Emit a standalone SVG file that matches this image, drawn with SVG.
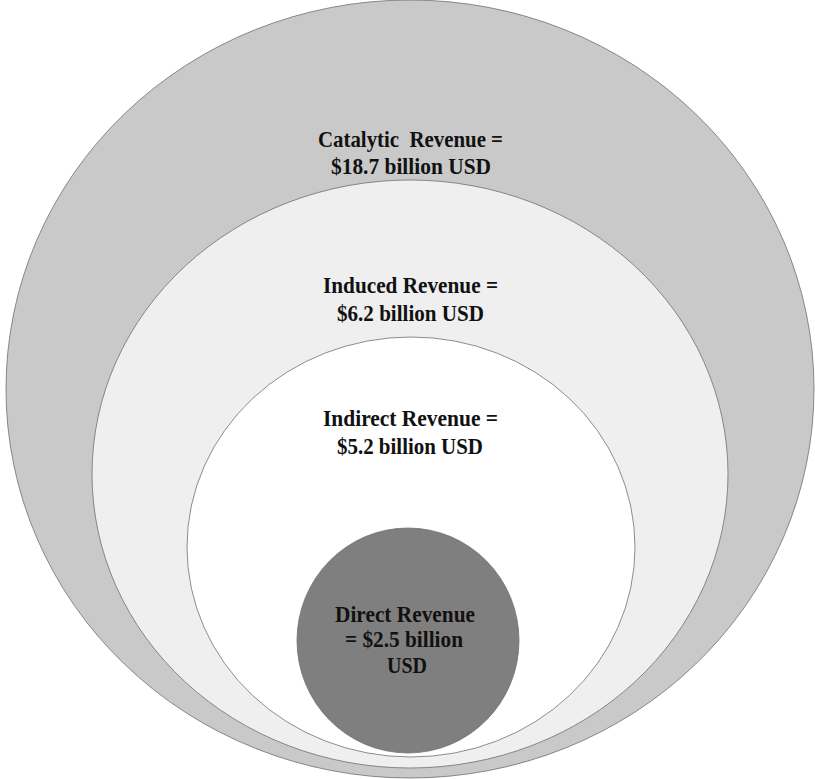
<svg xmlns="http://www.w3.org/2000/svg" width="815" height="779" viewBox="0 0 815 779">
  <style>
    .ring { stroke: #707070; stroke-width: 0.8; }
    .label { font-family: "Liberation Serif", "Times New Roman", serif; font-weight: bold; font-size: 24px; fill: #111111; text-anchor: middle; }
  </style>
  <rect width="815" height="779" fill="#ffffff"/>

  <g id="catalytic">
    <ellipse class="ring" cx="410" cy="389" rx="404" ry="389" fill="#c9c9c9"/>
    <text class="label" x="410.5" y="147" textLength="185" lengthAdjust="spacingAndGlyphs" xml:space="preserve">Catalytic  Revenue =</text>
    <text class="label" x="411" y="174" textLength="160" lengthAdjust="spacingAndGlyphs">$18.7 billion USD</text>
  </g>

  <g id="induced">
    <ellipse class="ring" cx="410" cy="474" rx="318" ry="294" fill="#efefef"/>
    <text class="label" x="410.5" y="293" textLength="175" lengthAdjust="spacingAndGlyphs">Induced Revenue =</text>
    <text class="label" x="410.5" y="321" textLength="147" lengthAdjust="spacingAndGlyphs">$6.2 billion USD</text>
  </g>

  <g id="indirect">
    <ellipse class="ring" cx="411" cy="547" rx="224" ry="210" fill="#ffffff"/>
    <text class="label" x="410.5" y="426" textLength="175" lengthAdjust="spacingAndGlyphs">Indirect Revenue =</text>
    <text class="label" x="410" y="454" textLength="146" lengthAdjust="spacingAndGlyphs">$5.2 billion USD</text>
  </g>

  <g id="direct">
    <ellipse class="ring" cx="408" cy="640.5" rx="111" ry="112.5" fill="#7f7f7f"/>
    <text class="label" x="405" y="622" textLength="140" lengthAdjust="spacingAndGlyphs">Direct Revenue</text>
    <text class="label" x="404" y="647" textLength="118" lengthAdjust="spacingAndGlyphs">= $2.5 billion</text>
    <text class="label" x="407" y="673" textLength="40" lengthAdjust="spacingAndGlyphs">USD</text>
  </g>

  <g id="connectors"/>
</svg>
